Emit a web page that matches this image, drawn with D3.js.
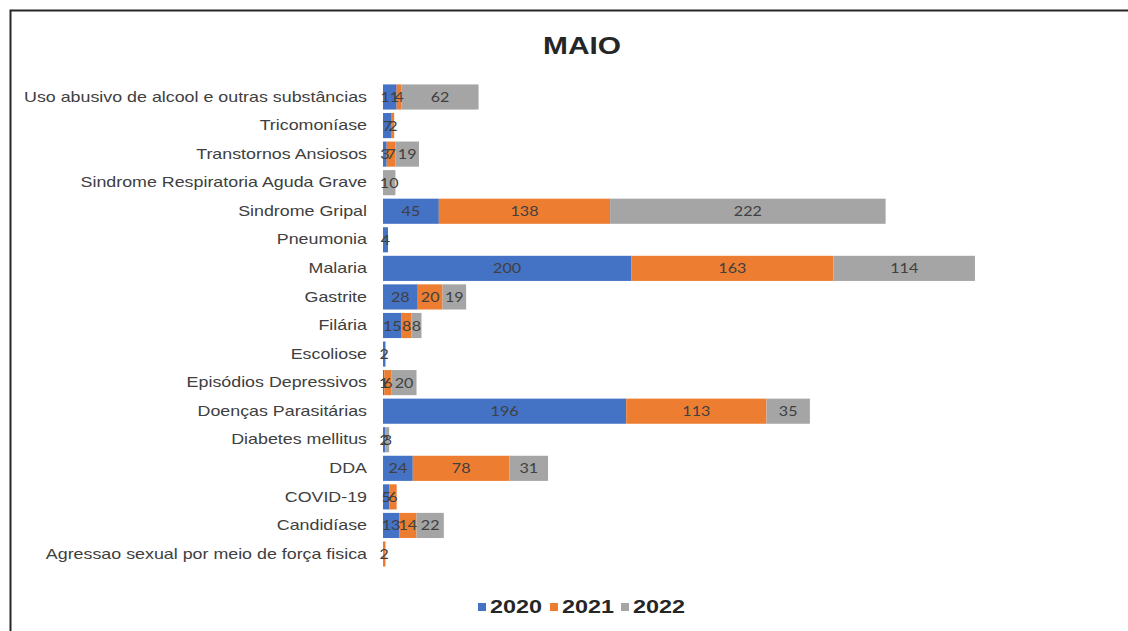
<!DOCTYPE html>
<html><head><meta charset="utf-8">
<script src="https://cdn.jsdelivr.net/npm/d3@7"></script>
<style>body{margin:0;background:#fff}svg{display:block}</style>
</head><body>
<svg id="c" width="1128" height="631"></svg>
<script>
const categories = ["Uso abusivo de alcool e outras substâncias","Tricomoníase","Transtornos Ansiosos","Sindrome Respiratoria Aguda Grave","Sindrome Gripal","Pneumonia","Malaria","Gastrite","Filária","Escoliose","Episódios Depressivos","Doenças Parasitárias","Diabetes mellitus","DDA","COVID-19","Candidíase","Agressao sexual por meio de força fisica"];
const s2020 = [11, 7, 3, null, 45, 4, 200, 28, 15, 2, 1, 196, 2, 24, 5, 13, null];
const s2021 = [4, 2, 7, null, 138, null, 163, 20, 8, null, 6, 113, null, 78, 6, 14, 2];
const s2022 = [62, null, 19, 10, 222, null, 114, 19, 8, null, 20, 35, 3, 31, null, 22, null];
const seriesNames = ["2020","2021","2022"];
const colors = ["#4472C4","#ED7D31","#A5A5A5"];
const title = "MAIO";

const svg = d3.select("#c");
svg.append("rect").attr("x",10.5).attr("y",10.5).attr("width",1130).attr("height",640)
  .attr("fill","#fff").attr("stroke","#262626").attr("stroke-width",2);

svg.append("g").attr("transform","translate(582,54) scale(1.3,1)")
  .append("text").attr("text-anchor","middle")
  .attr("font-family","Liberation Sans, Arial, sans-serif").attr("font-weight","bold")
  .attr("font-size",23).attr("fill","#262626").text(title);

const x = d3.scaleLinear().domain([0,500]).range([383, 383+620.5]);
const y = d3.scaleBand().domain(categories).range([82.7, 568.3]).paddingInner(0.12).paddingOuter(0.06);

const data = categories.map((c,i)=>({cat:c, vals:[s2020[i], s2021[i], s2022[i]]}));
const segs = [];
data.forEach(d=>{
  let acc = 0;
  d.vals.forEach((v,k)=>{
    if (v==null) return;
    segs.push({cat:d.cat, k, v, x0:acc, x1:acc+v});
    acc += v;
  });
});

svg.append("g").selectAll("rect").data(segs).join("rect")
  .attr("x", d=>x(d.x0)).attr("width", d=>x(d.x1)-x(d.x0))
  .attr("y", d=>y(d.cat)).attr("height", y.bandwidth())
  .attr("fill", d=>colors[d.k]);

svg.append("g").selectAll("text").data(segs).join("text")
  .attr("transform", d=>`translate(${(x(d.x0)+x(d.x1))/2},${y(d.cat)+y.bandwidth()/2}) scale(1.15,1)`)
  .attr("dy","0.36em").attr("text-anchor","middle")
  .attr("font-family","Lato, Open Sans, sans-serif").attr("font-size",14)
  .attr("fill","#404040").text(d=>d.v);

const sx = 1.23;
const yAxis = svg.append("g").attr("transform","translate(383,0)")
  .call(d3.axisLeft(y).tickSize(0).tickPadding(16));
yAxis.select(".domain").remove();
yAxis.selectAll("text").attr("font-family","Liberation Sans, Arial, sans-serif")
  .attr("font-size",14.5).attr("fill","#404040")
  .attr("x", -16/sx).attr("transform",`scale(${sx},1)`);

const legX = [478, 550, 621];
const leg = svg.append("g").selectAll("g").data(seriesNames).join("g")
  .attr("transform",(d,i)=>`translate(${legX[i]},607)`);
leg.append("rect").attr("x",0).attr("y",-4).attr("width",8).attr("height",8).attr("fill",(d,i)=>colors[i]);
leg.append("text").attr("transform","translate(12,0) scale(1.3,1)").attr("dy","0.36em")
  .attr("font-family","Liberation Sans, Arial, sans-serif").attr("font-weight","bold")
  .attr("font-size",18).attr("fill","#262626").text(d=>d);
</script>
</body></html>
